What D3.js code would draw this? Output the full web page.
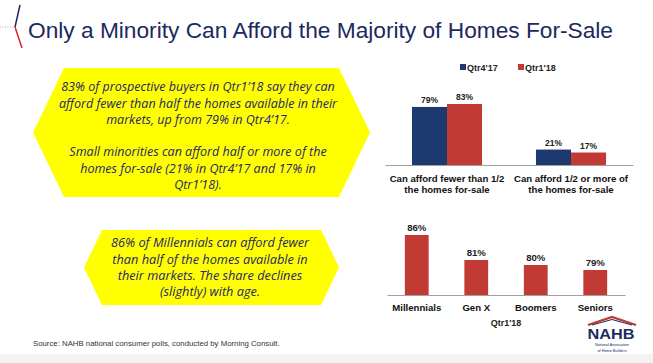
<!DOCTYPE html>
<html>
<head>
<meta charset="utf-8">
<script src="https://cdn.jsdelivr.net/npm/d3@7"></script>
<style>
  body { margin: 0; background: #fff; }
  svg { display: block; }
</style>
</head>
<body>
<div class="chart"></div>
<script>
// affordability: share of buyers who can afford fewer / more than half the homes for sale
var affordCats = ["fewer", "half"];
var affordLabels = [["Can afford fewer than 1/2", "the homes for-sale"], ["Can afford 1/2 or more of", "the homes for-sale"]];
var seriesNames = ["Qtr4'17", "Qtr1'18"];
var qtr4_17 = [79, 21];
var qtr1_18 = [83, 17];

// by generation, Qtr1'18
var genCats = ["Millennials", "Gen X", "Boomers", "Seniors"];
var genVals = [86, 81, 80, 79];

var svgWidth = 653;
var svgHeight = 363;
var navy = "#1d3a70";
var red = "#c13a33";
var textNavy = "#1b2a5e";

var svg = d3.select(".chart")
  .append("svg")
  .attr("width", svgWidth)
  .attr("height", svgHeight);

// light strip at the very bottom of the slide
svg.append("rect")
  .attr("x", 0).attr("y", 354)
  .attr("width", svgWidth).attr("height", 9)
  .attr("fill", "#f3f3f3");

// title decoration
svg.append("line")
  .attr("x1", 0).attr("y1", 27).attr("x2", 14).attr("y2", 27)
  .attr("stroke", "#b8a888").attr("stroke-width", 1)
  .attr("stroke-dasharray", "1,1.5");
svg.append("line")
  .attr("x1", 20).attr("y1", 5).attr("x2", 15).attr("y2", 27)
  .attr("stroke", textNavy).attr("stroke-width", 1.5);
svg.append("line")
  .attr("x1", 15).attr("y1", 27).attr("x2", 22).attr("y2", 48)
  .attr("stroke", "#d8262f").attr("stroke-width", 1.5);

svg.append("text")
  .attr("x", 28).attr("y", 38)
  .attr("font-family", "Liberation Sans, Arial, sans-serif")
  .attr("font-size", 22)
  .attr("fill", textNavy)
  .attr("textLength", 585)
  .attr("lengthAdjust", "spacingAndGlyphs")
  .text("Only a Minority Can Afford the Majority of Homes For-Sale");

// yellow callouts
function hexagon(x0, x1, y0, y1, inset, lines, baselines, cx, widest) {
  var ym = (y0 + y1) / 2;
  var pts = [[x0, ym], [x0 + inset, y0], [x1 - inset, y0], [x1, ym], [x1 - inset, y1], [x0 + inset, y1]];
  svg.append("polygon")
    .attr("points", pts.map(function(p) { return p.join(","); }).join(" "))
    .attr("fill", "#ffff00");
  var g = svg.append("g");
  var texts = g.selectAll("text")
    .data(lines)
    .enter().append("text")
      .attr("x", cx)
      .attr("y", function(d, i) { return baselines[i]; })
      .attr("text-anchor", "middle")
      .attr("font-family", "'Open Sans', 'DejaVu Sans', sans-serif")
      .attr("font-style", "italic")
      .attr("font-size", 12)
      .attr("fill", "#26266a")
      .text(function(d) { return d; });
  // squeeze a little so the widest line matches the slide
  var w = d3.max(texts.nodes(), function(n) { return n.getComputedTextLength(); });
  var k = widest / w;
  texts.each(function() {
    var n = this;
    d3.select(n).attr("textLength", n.getComputedTextLength() * k)
      .attr("lengthAdjust", "spacingAndGlyphs");
  });
}

hexagon(33, 370, 68, 197, 31,
  ["83% of prospective buyers in Qtr1\u201918 say they can",
   "afford fewer than half the homes available in their",
   "markets, up from 79% in Qtr4\u201917.",
   "Small minorities can afford half or more of the",
   "homes for-sale (21% in Qtr4\u201917 and 17% in",
   "Qtr1\u201918)."],
  [91, 107.5, 124, 156, 172.5, 189], 198, 278);

hexagon(84, 339, 230, 305, 18,
  ["86% of Millennials can afford fewer",
   "than half of the homes available in",
   "their markets.  The share declines",
   "(slightly) with age."],
  [247, 263.5, 280, 296], 210, 198);

// ---- chart 1: grouped bars ----
var base1 = 165;
var x0 = d3.scaleBand().domain(affordCats).range([385, 633]).paddingInner(0.435).paddingOuter(0.2175);
var x1 = d3.scaleBand().domain(seriesNames).range([0, x0.bandwidth()]);
var y1 = d3.scaleLinear().domain([0, 100]).range([base1, base1 - 73.5]);
var color = d3.scaleOrdinal().domain(seriesNames).range([navy, red]);

var rows = affordCats.map(function(c, i) {
  return { cat: c, vals: [{ s: seriesNames[0], v: qtr4_17[i] }, { s: seriesNames[1], v: qtr1_18[i] }] };
});

var groups = svg.selectAll(".grp")
  .data(rows)
  .enter().append("g")
  .attr("class", "grp")
  .attr("transform", function(d) { return "translate(" + x0(d.cat) + ",0)"; });

groups.selectAll("rect")
  .data(function(d) { return d.vals; })
  .enter().append("rect")
    .attr("x", function(d) { return x1(d.s); })
    .attr("y", function(d) { return y1(d.v); })
    .attr("width", x1.bandwidth())
    .attr("height", function(d) { return base1 - y1(d.v); })
    .attr("fill", function(d) { return color(d.s); });

groups.selectAll("text")
  .data(function(d) { return d.vals; })
  .enter().append("text")
    .attr("x", function(d) { return x1(d.s) + x1.bandwidth() / 2; })
    .attr("y", function(d) { return y1(d.v) - 4; })
    .attr("text-anchor", "middle")
    .attr("font-family", "Liberation Sans, Arial, sans-serif")
    .attr("font-weight", "bold")
    .attr("font-size", 8.5)
    .attr("fill", "#222")
    .text(function(d) { return d.v + "%"; });

var axis1 = svg.append("g")
  .attr("transform", "translate(0," + base1 + ")")
  .call(d3.axisBottom(x0).tickSize(0).tickFormat(""));
axis1.select(".domain").attr("stroke", "#a0a0a0");

svg.selectAll(".cat1")
  .data(affordCats)
  .enter().append("text")
    .attr("class", "cat1")
    .attr("text-anchor", "middle")
    .attr("font-family", "Liberation Sans, Arial, sans-serif")
    .attr("font-weight", "bold")
    .attr("font-size", 9.6)
    .attr("fill", "#111")
    .each(function(d, i) {
      var t = d3.select(this);
      affordLabels[i].forEach(function(line, j) {
        t.append("tspan")
          .attr("x", x0(d) + x0.bandwidth() / 2)
          .attr("y", 181.5 + j * 11)
          .text(line);
      });
    });

// legend
var legend = svg.selectAll(".leg")
  .data(seriesNames)
  .enter().append("g")
  .attr("class", "leg")
  .attr("transform", function(d, i) { return "translate(" + (460 + i * 58) + ",0)"; });
legend.append("rect")
  .attr("x", 0).attr("y", 64)
  .attr("width", 6).attr("height", 6)
  .attr("fill", function(d) { return color(d); });
legend.append("text")
  .attr("x", 7).attr("y", 70.5)
  .attr("font-family", "Liberation Sans, Arial, sans-serif")
  .attr("font-weight", "bold")
  .attr("font-size", 9)
  .attr("fill", "#222")
  .text(function(d) { return d; });

// ---- chart 2: by generation ----
var base2 = 295;
var xg = d3.scaleBand().domain(genCats).range([387, 625]).paddingInner(0.6).paddingOuter(0.3);
var yg = d3.scaleLinear().domain([74, 86]).range([base2, 235]);

svg.selectAll(".gbar")
  .data(genVals)
  .enter().append("rect")
    .attr("class", "gbar")
    .attr("x", function(d, i) { return xg(genCats[i]); })
    .attr("y", function(d) { return yg(d); })
    .attr("width", xg.bandwidth())
    .attr("height", function(d) { return base2 - yg(d); })
    .attr("fill", red);

svg.selectAll(".glab")
  .data(genVals)
  .enter().append("text")
    .attr("class", "glab")
    .attr("x", function(d, i) { return xg(genCats[i]) + xg.bandwidth() / 2; })
    .attr("y", function(d) { return yg(d) - 4; })
    .attr("text-anchor", "middle")
    .attr("font-family", "Liberation Sans, Arial, sans-serif")
    .attr("font-weight", "bold")
    .attr("font-size", 9.6)
    .attr("fill", "#222")
    .text(function(d) { return d + "%"; });

var axis2 = svg.append("g")
  .attr("transform", "translate(0," + base2 + ")")
  .call(d3.axisBottom(xg).tickSize(0).tickPadding(9));
axis2.select(".domain").attr("stroke", "#a0a0a0");
axis2.selectAll("text")
  .attr("font-family", "Liberation Sans, Arial, sans-serif")
  .attr("font-weight", "bold")
  .attr("font-size", 9.6)
  .attr("fill", "#111");

svg.append("text")
  .attr("x", 506).attr("y", 326)
  .attr("text-anchor", "middle")
  .attr("font-family", "Liberation Sans, Arial, sans-serif")
  .attr("font-weight", "bold")
  .attr("font-size", 9)
  .attr("fill", "#222")
  .text("Qtr1'18");

// source note
svg.append("text")
  .attr("x", 33).attr("y", 346)
  .attr("font-family", "Liberation Sans, Arial, sans-serif")
  .attr("font-size", 7.8)
  .attr("fill", "#333")
  .text("Source:  NAHB national consumer polls, conducted by Morning Consult.");

// NAHB logo
var logo = svg.append("g");
logo.append("polyline")
  .attr("points", "588,325 612,317 636,325")
  .attr("fill", "none")
  .attr("stroke", red)
  .attr("stroke-width", 2.2);
logo.append("polyline")
  .attr("points", "592,325 612,319.5 632,325")
  .attr("fill", "none")
  .attr("stroke", textNavy)
  .attr("stroke-width", 1);
logo.append("text")
  .attr("x", 611).attr("y", 339)
  .attr("text-anchor", "middle")
  .attr("font-family", "Liberation Sans, Arial, sans-serif")
  .attr("font-weight", "bold")
  .attr("font-size", 15.5)
  .attr("textLength", 47)
  .attr("lengthAdjust", "spacingAndGlyphs")
  .attr("fill", textNavy)
  .text("NAHB");
logo.append("text")
  .attr("x", 612).attr("y", 346)
  .attr("text-anchor", "middle")
  .attr("font-family", "Liberation Sans, Arial, sans-serif")
  .attr("font-size", 3.8)
  .attr("fill", textNavy)
  .text("National Association");
logo.append("text")
  .attr("x", 612).attr("y", 351.5)
  .attr("text-anchor", "middle")
  .attr("font-family", "Liberation Sans, Arial, sans-serif")
  .attr("font-size", 3.8)
  .attr("fill", textNavy)
  .text("of Home Builders");
</script>
</body>
</html>
